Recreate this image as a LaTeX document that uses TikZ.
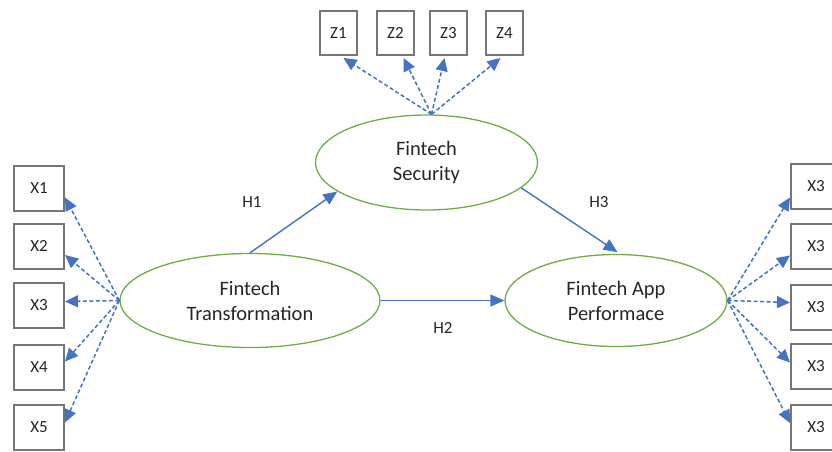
\documentclass[tikz,border=0pt]{standalone}
\usepackage{fontspec}
\setmainfont{Carlito}
\usetikzlibrary{shapes.geometric,arrows.meta}
\definecolor{elgreen}{HTML}{70AD47}
\definecolor{arblue}{HTML}{4472C4}
\definecolor{boxgray}{HTML}{767676}
\definecolor{txt}{HTML}{262626}
\tikzset{
  ind/.style={draw=boxgray,line width=2pt,fill=white,minimum width=50pt,minimum height=45pt,inner sep=0pt,font=\fontsize{17}{20}\selectfont,text=txt},
  zind/.style={ind,minimum width=37pt,minimum height=44pt},
  lat/.style={ellipse,draw=elgreen,line width=1.3pt,inner sep=0pt,align=center,font=\fontsize{20.5}{25}\selectfont,text=txt},
  load/.style={draw=arblue,line width=1.5pt,dash pattern=on 4pt off 2.5pt,-{Triangle[length=13pt,width=12pt]}},
  path/.style={draw=arblue,line width=1.4pt,-{Triangle[length=14pt,width=12pt]}},
  hlab/.style={font=\fontsize{17}{20}\selectfont,text=txt}
}
\begin{document}
\begin{tikzpicture}[x=1pt,y=-1pt]
\useasboundingbox (0,0) rectangle (832,451);
% latent variables
\node[lat,minimum width=260pt,minimum height=94pt] (FT) at (250,300.5) {Fintech\\Transformation};
\node[lat,minimum width=222pt,minimum height=95pt] (FS) at (426.5,162.5) {Fintech\\Security};
\node[lat,minimum width=222pt,minimum height=92pt] (FP) at (616,300.5) {Fintech App\\Performace};
% left indicators
\node[ind] (X1) at (39,188.5) {X1};
\node[ind] (X2) at (39,246) {X2};
\node[ind] (X3) at (39,305.5) {X3};
\node[ind] (X4) at (39,367.5) {X4};
\node[ind] (X5) at (39,427.5) {X5};
% right indicators
\node[ind] (R1) at (816,186.5) {X3};
\node[ind] (R2) at (816,246.5) {X3};
\node[ind] (R3) at (816,307.5) {X3};
\node[ind] (R4) at (816,366.5) {X3};
\node[ind] (R5) at (816,427) {X3};
% top indicators
\node[zind] (Z1) at (338.5,33) {Z1};
\node[zind] (Z2) at (395.5,33) {Z2};
\node[zind] (Z3) at (448.5,33) {Z3};
\node[zind] (Z4) at (504.5,33) {Z4};
% loadings left
\draw[load] (FT.west) -- ([yshift=-9pt]X1.east);
\draw[load] (FT.west) -- ([yshift=-9pt]X2.east);
\draw[load] (FT.west) -- ([yshift=4pt]X3.east);
\draw[load] (FT.west) -- ([yshift=6pt]X4.east);
\draw[load] (FT.west) -- ([yshift=5pt]X5.east);
% loadings right
\draw[load] (FP.east) -- ([yshift=-11pt]R1.west);
\draw[load] (FP.east) -- ([yshift=-9pt]R2.west);
\draw[load] (FP.east) -- ([yshift=5pt]R3.west);
\draw[load] (FP.east) -- ([yshift=4pt]R4.west);
\draw[load] (FP.east) -- ([yshift=4pt]R5.west);
% loadings top
\coordinate (FStop) at ([xshift=5pt]FS.north);
\draw[load] (FStop) -- ([xshift=5pt,yshift=-2pt]Z1.south);
\draw[load] (FStop) -- ([xshift=8pt,yshift=-2pt]Z2.south);
\draw[load] (FStop) -- ([xshift=-4pt,yshift=-2pt]Z3.south);
\draw[load] (FStop) -- ([xshift=-4pt,yshift=-2pt]Z4.south);
% structural paths
\draw[path] (FT.north) -- (FS.198);
\draw[path] (FT.east) -- (FP.west);
\draw[path,shorten >=3pt] (FS.-15) -- ([xshift=4pt]FP.north);
% labels
\node[hlab] (H1) at (252,202) {H1};
\node[hlab] (H2) at (443,328) {H2};
\node[hlab] (H3) at (599,202) {H3};
\end{tikzpicture}
\end{document}
